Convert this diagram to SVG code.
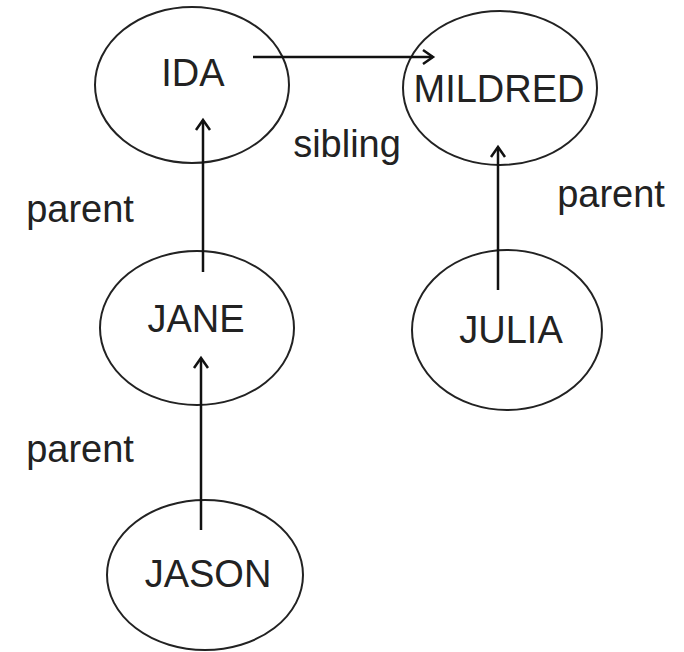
<svg xmlns="http://www.w3.org/2000/svg" width="684" height="652" viewBox="0 0 684 652">
<defs>
<style>
.node ellipse{fill:#fff;stroke:#222;stroke-width:2}
text{font-family:"Liberation Sans",Arial,sans-serif;font-size:38px;fill:#222;text-anchor:middle}
.edge{stroke:#111;stroke-width:2.5;fill:none;marker-end:url(#arr)}
</style>
<marker id="arr" markerUnits="userSpaceOnUse" markerWidth="24" markerHeight="24" viewBox="-12 -12 24 24" refX="0" refY="0" orient="auto">
<path d="M-10,-7 L0,0 L-10,7" fill="none" stroke="#111" stroke-width="2.5"/>
</marker>
</defs>
<rect width="684" height="652" fill="#fff"/>
<g id="ida" class="node"><ellipse cx="192" cy="85" rx="97" ry="78"/><text x="193" y="86">IDA</text></g>
<g id="mildred" class="node"><ellipse cx="500" cy="88" rx="97" ry="77"/><text x="499" y="102">MILDRED</text></g>
<g id="jane" class="node"><ellipse cx="197" cy="328" rx="97" ry="77"/><text x="196" y="332">JANE</text></g>
<g id="julia" class="node"><ellipse cx="507" cy="330" rx="95" ry="80"/><text x="511" y="343">JULIA</text></g>
<g id="jason" class="node"><ellipse cx="205" cy="575" rx="98" ry="75"/><text x="208" y="587">JASON</text></g>
<g id="connectors">
<line class="edge" x1="253" y1="57" x2="433" y2="57"/>
<line class="edge" x1="203" y1="272" x2="203" y2="120"/>
<line class="edge" x1="201" y1="530" x2="201" y2="358"/>
<line class="edge" x1="498" y1="290" x2="498" y2="147"/>
</g>
<g id="labels">
<text x="347" y="157">sibling</text>
<text x="611" y="207">parent</text>
<text x="80" y="222">parent</text>
<text x="80" y="462">parent</text>
</g>
</svg>
